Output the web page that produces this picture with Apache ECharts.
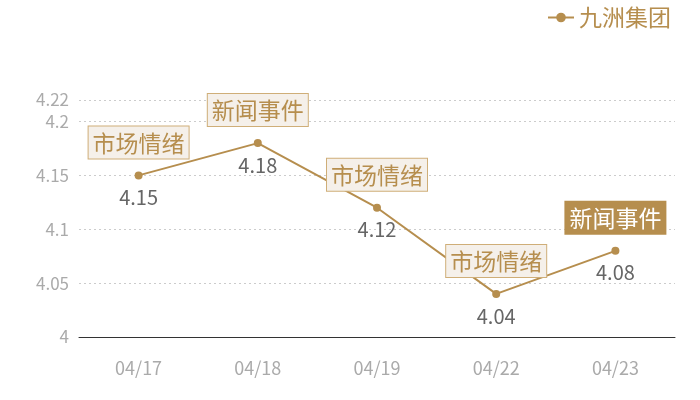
<!DOCTYPE html>
<html lang="zh">
<head>
    <meta charset="UTF-8">
    <title>九洲集团</title>
    <script src="https://cdn.jsdelivr.net/npm/echarts@6/dist/echarts.min.js"></script>
    <style>
        html, body { margin: 0; padding: 0; background: #fff; }
        #main { width: 700px; height: 400px; }
    </style>
</head>
<body>
    <div id="main"></div>
    <script>
        // 数据
        const dates = ['04/17', '04/18', '04/19', '04/22', '04/23'];
        const prices = [4.15, 4.18, 4.12, 4.04, 4.08];
        const tags = ['市场情绪', '新闻事件', '市场情绪', '市场情绪', '新闻事件'];
        const yTicks = { min: 4, max: 4.22, interval: 0.05 };

        const gold = '#b68e4e';
        const font = '"Noto Sans CJK SC", "Noto Sans", sans-serif';

        let myChart = echarts.init(document.getElementById('main'));

        // 标签框，最后一个高亮
        let marks = dates.map(function (d, i) {
            let last = i === dates.length - 1;
            return {
                coord: [d, prices[i]],
                value: tags[i],
                label: {
                    backgroundColor: last ? gold : '#f5f0ea',
                    borderColor: last ? gold : '#cfae78',
                    color: last ? '#fff' : gold
                }
            };
        });

        let option = {
            textStyle: { fontFamily: font },
            legend: {
                right: 24,
                top: 1,
                itemWidth: 26,
                itemHeight: 12,
                textStyle: { color: gold, fontSize: 23, fontFamily: font },
                data: ['九洲集团']
            },
            grid: { left: 79, right: 25, top: 100, bottom: 63 },
            xAxis: {
                type: 'category',
                data: dates,
                axisLine: { lineStyle: { color: '#333', width: 1 } },
                axisTick: { show: false },
                axisLabel: { color: '#aaa', fontSize: 18, margin: 22, fontFamily: font }
            },
            yAxis: {
                type: 'value',
                min: yTicks.min,
                max: yTicks.max,
                interval: yTicks.interval,
                axisLine: { show: false },
                axisTick: { show: false },
                axisLabel: { color: '#aaa', fontSize: 17, margin: 10, fontFamily: font },
                splitLine: { lineStyle: { color: '#ccc', type: [2, 3] } }
            },
            series: [
                {
                    name: '九洲集团',
                    type: 'line',
                    data: prices,
                    symbol: 'circle',
                    symbolSize: 8,
                    itemStyle: { color: gold },
                    lineStyle: { color: gold, width: 2 },
                    label: {
                        show: true,
                        position: 'bottom',
                        distance: 8,
                        color: '#666',
                        fontSize: 20,
                        fontFamily: font
                    },
                    markPoint: {
                        symbol: 'circle',
                        symbolSize: 0,
                        label: {
                            show: true,
                            position: 'top',
                            distance: 17,
                            fontSize: 23,
                            fontFamily: font,
                            borderWidth: 1,
                            padding: [5, 4, 4, 4],
                            formatter: '{c}'
                        },
                        data: marks
                    }
                }
            ]
        };
        myChart.setOption(option);
    </script>
</body>
</html>
